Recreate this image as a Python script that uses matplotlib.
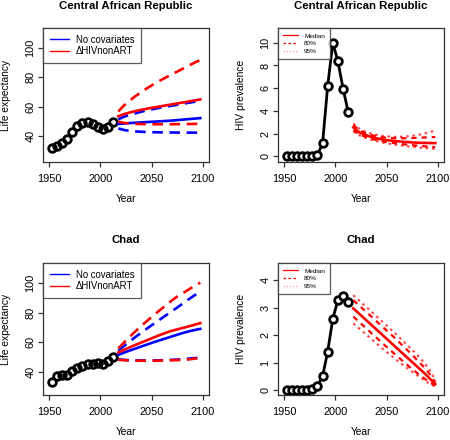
import matplotlib
matplotlib.use("Agg")
import matplotlib.pyplot as plt
from matplotlib.lines import Line2D

plt.rcParams['font.family'] = ['Liberation Sans', 'DejaVu Sans']

# ---------------- data ----------------
obs_years = [1952.5, 1957.5, 1962.5, 1967.5, 1972.5, 1977.5, 1982.5, 1987.5,
             1992.5, 1997.5, 2002.5, 2007.5, 2012.5]
proj_years = [2017.5, 2022.5, 2027.5, 2032.5, 2037.5, 2042.5, 2047.5, 2052.5,
              2057.5, 2062.5, 2067.5, 2072.5, 2077.5, 2082.5, 2087.5, 2092.5, 2097.5]

# Central African Republic - life expectancy
car_le_obs = [32.0, 33.4, 35.4, 38.0, 43.0, 46.8, 48.7, 49.8, 48.2, 46.2, 44.6, 46.4, 49.8]
car_le_blue_med = [48.2, 48.5, 48.8, 49.0, 49.2, 49.4, 49.6, 49.8, 50.0, 50.2, 50.4, 50.7, 51.0, 51.3, 51.6, 51.9, 52.2]
car_le_blue_up = [51.4, 53.0, 54.2, 55.2, 56.1, 57.0, 57.8, 58.5, 59.2, 59.8, 60.4, 61.0, 61.6, 62.2, 62.8, 63.4, 64.0]
car_le_blue_lo = [45.2, 44.2, 43.6, 43.2, 43.0, 42.8, 42.7, 42.6, 42.5, 42.5, 42.4, 42.4, 42.3, 42.3, 42.3, 42.3, 42.3]
car_le_red_med = [53.5, 54.8, 55.8, 56.7, 57.5, 58.2, 58.9, 59.5, 60.1, 60.7, 61.3, 61.9, 62.5, 63.1, 63.7, 64.3, 64.9]
car_le_red_up = [56.7, 60.5, 63.5, 66.3, 68.8, 71.2, 73.4, 75.5, 77.5, 79.4, 81.2, 83.0, 84.8, 86.6, 88.4, 90.2, 91.8]
car_le_red_lo = [49.8, 49.0, 48.6, 48.3, 48.2, 48.1, 48.0, 48.0, 48.0, 48.0, 48.0, 48.1, 48.1, 48.2, 48.2, 48.3, 48.3]

# Chad - life expectancy
chad_le_obs = [33.0, 37.5, 38.0, 38.2, 41.0, 42.5, 44.2, 45.6, 45.6, 45.8, 45.6, 47.1, 50.3]
chad_le_blue_med = [51.6, 52.9, 54.2, 55.4, 56.6, 57.8, 59.0, 60.2, 61.3, 62.4, 63.5, 64.6, 65.7, 66.7, 67.6, 68.4, 69.1]
chad_le_blue_up = [54.3, 57.2, 60.0, 62.7, 65.3, 67.8, 70.3, 72.7, 75.1, 77.5, 79.9, 82.3, 84.7, 87.2, 89.7, 92.0, 94.2]
chad_le_blue_lo = [48.5, 48.2, 48.0, 47.9, 47.8, 47.8, 47.8, 47.8, 47.9, 48.0, 48.1, 48.3, 48.5, 48.8, 49.1, 49.4, 49.8]
chad_le_red_med = [53.2, 54.8, 56.3, 57.8, 59.2, 60.6, 62.0, 63.4, 64.8, 66.1, 67.3, 68.3, 69.2, 70.1, 71.0, 72.0, 73.0]
chad_le_red_up = [56.0, 59.5, 63.0, 66.3, 69.5, 72.6, 75.6, 78.5, 81.4, 84.2, 87.0, 89.7, 92.0, 94.0, 96.2, 98.3, 100.2]
chad_le_red_lo = [48.3, 48.0, 47.8, 47.7, 47.6, 47.6, 47.6, 47.6, 47.7, 47.8, 47.9, 48.0, 48.1, 48.2, 48.6, 49.1, 49.5]

# Central African Republic - HIV prevalence
car_hiv_obs = [0.0, 0.0, 0.0, 0.0, 0.0, 0.0, 0.1, 1.15, 6.2, 10.0, 8.35, 5.97, 3.9]
car_hiv_med = [2.54, 2.15, 1.94, 1.78, 1.64, 1.54, 1.46, 1.40, 1.35, 1.31, 1.27, 1.24, 1.21, 1.19, 1.18, 1.17, 1.16]
car_hiv_up80 = [2.78, 2.35, 2.12, 1.95, 1.82, 1.72, 1.66, 1.62, 1.60, 1.59, 1.59, 1.60, 1.62, 1.64, 1.66, 1.68, 1.70]
car_hiv_lo80 = [2.30, 1.98, 1.78, 1.62, 1.49, 1.38, 1.29, 1.22, 1.16, 1.10, 1.05, 1.00, 0.96, 0.92, 0.88, 0.84, 0.80]
car_hiv_up95 = [2.90, 2.48, 2.24, 2.07, 1.94, 1.84, 1.78, 1.74, 1.72, 1.72, 1.74, 1.78, 1.84, 1.92, 2.02, 2.14, 2.28]
car_hiv_lo95 = [2.18, 1.88, 1.69, 1.53, 1.40, 1.29, 1.19, 1.11, 1.04, 0.98, 0.92, 0.87, 0.82, 0.77, 0.73, 0.69, 0.66]

# Chad - HIV prevalence
chad_hiv_obs = [0.0, 0.0, 0.0, 0.0, 0.0, 0.03, 0.15, 0.5, 1.4, 2.6, 3.27, 3.43, 3.2]
chad_hiv_med = [2.97, 2.80, 2.63, 2.46, 2.29, 2.12, 1.95, 1.78, 1.61, 1.44, 1.27, 1.10, 0.93, 0.76, 0.59, 0.40, 0.22]
chad_hiv_up80 = [3.27, 3.10, 2.93, 2.76, 2.59, 2.42, 2.25, 2.08, 1.91, 1.73, 1.55, 1.37, 1.18, 0.99, 0.79, 0.56, 0.28]
chad_hiv_lo80 = [2.67, 2.50, 2.33, 2.16, 1.99, 1.82, 1.65, 1.49, 1.32, 1.16, 1.00, 0.84, 0.69, 0.54, 0.40, 0.27, 0.16]
chad_hiv_up95 = [3.45, 3.28, 3.11, 2.94, 2.77, 2.60, 2.43, 2.26, 2.09, 1.91, 1.73, 1.55, 1.37, 1.17, 0.96, 0.70, 0.36]
chad_hiv_lo95 = [2.42, 2.26, 2.10, 1.94, 1.78, 1.62, 1.46, 1.31, 1.16, 1.01, 0.87, 0.73, 0.60, 0.47, 0.34, 0.22, 0.12]

titles = ["Central African Republic", "Central African Republic", "Chad", "Chad"]
le_legend_labels = ["No covariates", "\u0394HIVnonART"]
hiv_legend_labels = ["Median", "80%", "95%"]
x_ticks = [1950, 2000, 2050, 2100]

BLUE = "#0000ff"
RED = "#ff0000"
RED95 = "#ff4040"
PINK = "#ff9a9a"

# ---------------- figure ----------------
W, H = 450, 440
fig = plt.figure(figsize=(4.5, 4.4), dpi=100)

def add_ax(x0, y0, x1, y1):
    return fig.add_axes([x0 / W, 1 - y1 / H, (x1 - x0) / W, (y1 - y0) / H])

ax_tl = add_ax(43, 28, 209, 162)
ax_tr = add_ax(278, 28, 444, 162)
ax_bl = add_ax(43, 263, 209, 395)
ax_br = add_ax(278, 263, 444, 395)

TICK_FS = 7.9
LAB_FS = 7.4

def style(ax, title, ylabel, yticks, ylim, title_off):
    ax.set_xlim(1944, 2106)
    ax.set_ylim(*ylim)
    ax.set_xticks(x_ticks)
    ax.set_yticks(yticks)
    for s in ax.spines.values():
        s.set_linewidth(0.9)
        s.set_color("#333333")
    ax.tick_params(direction="out", length=3.5, width=0.9, color="#333333",
                   labelsize=TICK_FS)
    ax.tick_params(axis="x", pad=5.0)
    ax.tick_params(axis="y", pad=1.8)
    for lab in ax.get_yticklabels():
        lab.set_rotation(90)
        lab.set_va("center")
    bb = ax.get_position()
    hpx = bb.height * H
    wpx = bb.width * W
    ax.set_xlabel("Year", fontsize=LAB_FS)
    ax.xaxis.set_label_coords(0.5, -37 / hpx)
    ax.xaxis.label.set_va("center")
    ax.set_ylabel(ylabel, fontsize=LAB_FS)
    ax.yaxis.set_label_coords(-37 / wpx, 0.5)
    ax.yaxis.label.set_va("center")
    ax.text(0.5, 1 + title_off / hpx, title, transform=ax.transAxes,
            ha="center", va="center", fontsize=8.2, fontweight="bold")

LW = 1.9
DASH = (0, (4, 2.5))
MS = 5.5

def le_panel(ax, obs, bm, bu, bl, rm, ru, rl, title, ylim, toff):
    ax.plot(obs_years, obs, linestyle="none", marker="o", markersize=MS,
            markerfacecolor="none", markeredgecolor="black", markeredgewidth=2.0)
    ax.plot(proj_years, bm, color=BLUE, lw=LW)
    ax.plot(proj_years, bu, color=BLUE, lw=LW, ls=DASH)
    ax.plot(proj_years, bl, color=BLUE, lw=LW, ls=DASH)
    ax.plot(proj_years, rm, color=RED, lw=LW)
    ax.plot(proj_years, ru, color=RED, lw=LW, ls=DASH)
    ax.plot(proj_years, rl, color=RED, lw=LW, ls=DASH)
    style(ax, title, "Life expectancy", [40, 60, 80, 100], ylim, toff)
    handles = [Line2D([], [], color=BLUE, lw=1.0), Line2D([], [], color=RED, lw=1.0)]
    leg = ax.legend(handles, le_legend_labels, loc="upper left", bbox_to_anchor=(0, 1),
                    borderaxespad=0, fontsize=6.9, frameon=True, fancybox=False,
                    handlelength=2.0, handletextpad=0.7, labelspacing=0.12,
                    borderpad=0.7)
    leg.get_frame().set_edgecolor("#333333")
    leg.get_frame().set_linewidth(0.9)

def hiv_panel(ax, obs, med, u80, l80, u95, l95, title, yticks, ylim, toff):
    ax.plot(obs_years, obs, color="black", lw=2.0, marker="o", markersize=MS,
            markerfacecolor="white", markeredgecolor="black", markeredgewidth=2.0)
    ax.plot(proj_years, u95, color=RED95, lw=1.5, ls=(0, (1.2, 1.8)))
    ax.plot(proj_years, l95, color=RED95, lw=1.5, ls=(0, (1.2, 1.8)))
    ax.plot(proj_years, u80, color=RED, lw=1.6, ls=(0, (2.4, 2.2)))
    ax.plot(proj_years, l80, color=RED, lw=1.6, ls=(0, (2.4, 2.2)))
    ax.plot(proj_years, med, color=RED, lw=1.9)
    style(ax, title, "HIV prevalence", yticks, ylim, toff)
    handles = [Line2D([], [], color=RED, lw=0.9),
               Line2D([], [], color=RED, lw=0.9, ls=(0, (2, 2))),
               Line2D([], [], color=PINK, lw=0.9, ls=(0, (1, 1.5)))]
    leg = ax.legend(handles, hiv_legend_labels, loc="upper left", bbox_to_anchor=(0, 1),
                    borderaxespad=0, fontsize=4.6, frameon=True, fancybox=False,
                    handlelength=2.4, handletextpad=0.9, labelspacing=0.35,
                    borderpad=0.8)
    leg.get_frame().set_edgecolor("#333333")
    leg.get_frame().set_linewidth(0.9)

le_panel(ax_tl, car_le_obs, car_le_blue_med, car_le_blue_up, car_le_blue_lo,
         car_le_red_med, car_le_red_up, car_le_red_lo, titles[0], (22.3, 113.6), 22)
hiv_panel(ax_tr, car_hiv_obs, car_hiv_med, car_hiv_up80, car_hiv_lo80,
          car_hiv_up95, car_hiv_lo95, titles[1], [0, 2, 4, 6, 8, 10], (-0.5, 11.3), 22)
le_panel(ax_bl, chad_le_obs, chad_le_blue_med, chad_le_blue_up, chad_le_blue_lo,
         chad_le_red_med, chad_le_red_up, chad_le_red_lo, titles[2], (24.5, 113.5), 23)
hiv_panel(ax_br, chad_hiv_obs, chad_hiv_med, chad_hiv_up80, chad_hiv_lo80,
          chad_hiv_up95, chad_hiv_lo95, titles[3], [0, 1, 2, 3, 4], (-0.18, 4.62), 23)

fig.savefig("out.png", dpi=100, facecolor="white")
